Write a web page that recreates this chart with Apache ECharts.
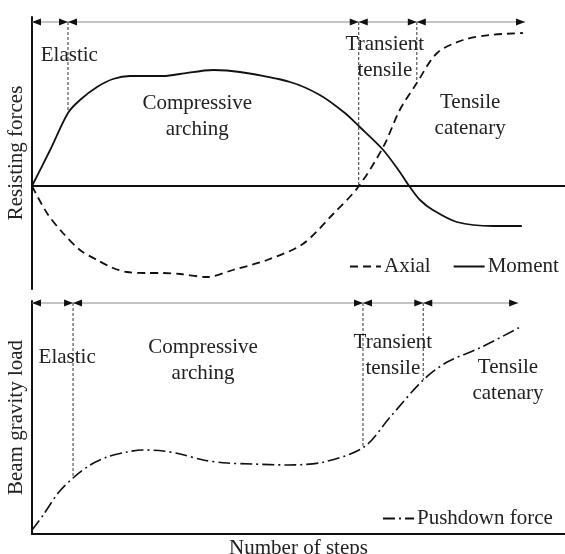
<!DOCTYPE html>
<html><head><meta charset="utf-8">
<script src="https://cdn.jsdelivr.net/npm/echarts@6/dist/echarts.min.js"></script>
<style>html,body{margin:0;padding:0;background:#fff}#c{width:565px;height:554px}</style>
</head><body><div id="c"></div>
<script>
// ---- data (steps normalised 0-100, forces in arbitrary units) ----
const momentSteps  = [0, 3.4, 6.75, 9.0, 12.2, 15.2, 18.4, 21.6, 24.6, 27.8, 34, 39, 48.4, 54, 58.7, 61.5, 65.9, 69, 70.9, 72.8, 75.2, 79.7, 86.5, 91.9];
const momentValues = [0, 36, 73, 86, 99, 107, 110, 110, 110, 112, 116, 114, 104, 91, 73, 59, 36, 14, -1, -14, -24, -36, -40, -40];
const axialSteps   = [0, 2.8, 5.8, 9.0, 12.2, 15.2, 17.8, 21.6, 24.6, 27.8, 32.8, 37.7, 44.1, 50.8, 56.5, 61.2, 65.9, 69, 72.2, 76, 80.9, 85.9, 92.1];
const axialValues  = [0, -27, -47, -64, -74, -82, -86, -87, -87, -88, -91, -84, -74, -58, -28, -1, 39, 76, 103, 133, 146, 151, 153];
const pushSteps    = [0, 2.1, 4.9, 7.7, 10.9, 14.1, 17.8, 20.8, 24.6, 27.8, 32.1, 36.6, 41.3, 48, 54.8, 62.3, 67.2, 73.4, 77.9, 84, 91.6];
const pushValues   = [4, 19, 41, 56, 69, 77, 82, 84, 83, 80, 74, 71, 70, 69, 72, 87, 117, 154, 172, 186, 207];

const phaseNames        = ['Elastic', 'Compressive\narching', 'Transient\ntensile', 'Tensile\ncatenary'];
const topPhaseBounds    = [0, 6.75, 61.3, 72.2, 92.5];
const bottomPhaseBounds = [0, 7.7, 62.1, 73.4, 91.2];
const topBoundCurves    = ['Moment', 'Axial', 'Axial'];
const topLabelSteps     = [7.0, 31, 66.2, 82.2];
const topLabelLevels    = [131, 70, 129, 71];
const bottomLabelSteps  = [6.6, 32.1, 67.7, 89.3];
const bottomLabelLevels = [177, 174, 179, 154];
const topArrowLevel = 164, bottomArrowLevel = 231;

const FONT = "'Liberation Serif','Times New Roman',serif";
const FS = 21;
const zip = (a, b) => a.map((v, i) => [v, b[i]]);
function interp(xs, ys, x) {
  for (let i = 1; i < xs.length; i++) {
    if (x <= xs[i]) { const t = (x - xs[i-1]) / (xs[i] - xs[i-1]); return ys[i-1] + t * (ys[i] - ys[i-1]); }
  }
  return ys[ys.length - 1];
}
const curves = { Moment: [momentSteps, momentValues], Axial: [axialSteps, axialValues], Push: [pushSteps, pushValues] };

function arrowSeries(bounds, level, gi) {
  const segs = [];
  for (let i = 0; i < bounds.length - 1; i++) segs.push([bounds[i], bounds[i+1]]);
  return {
    type: 'custom', xAxisIndex: gi, yAxisIndex: gi, silent: true, z: 5,
    data: segs.map((s, i) => [i, 0]),
    renderItem: (params, api) => {
      const s = segs[params.dataIndex];
      const p1 = api.coord([s[0], level]), p2 = api.coord([s[1], level]);
      const L = 9, W = 3.5;
      return { type: 'group', children: [
        { type: 'line', shape: { x1: p1[0], y1: p1[1], x2: p2[0], y2: p2[1] }, style: { stroke: '#8a8a8a', lineWidth: 1.2 } },
        { type: 'polygon', shape: { points: [[p1[0], p1[1]], [p1[0] + L, p1[1] - W], [p1[0] + L, p1[1] + W]] }, style: { fill: '#111' } },
        { type: 'polygon', shape: { points: [[p2[0], p2[1]], [p2[0] - L, p2[1] - W], [p2[0] - L, p2[1] + W]] }, style: { fill: '#111' } }
      ]};
    }
  };
}
function boundSeries(bounds, level, curveNames, gi) {
  const inner = bounds.slice(1, bounds.length - 1);
  return {
    type: 'custom', xAxisIndex: gi, yAxisIndex: gi, silent: true, z: 4,
    data: inner.map((b, i) => [i, 0]),
    renderItem: (params, api) => {
      const x = inner[params.dataIndex];
      const c = curves[curveNames[params.dataIndex]];
      const yEnd = interp(c[0], c[1], x);
      const p1 = api.coord([x, level]), p2 = api.coord([x, yEnd]);
      return { type: 'line', shape: { x1: p1[0], y1: p1[1], x2: p2[0], y2: p2[1] },
        style: { stroke: '#333', lineWidth: 1, lineDash: [3, 2] } };
    }
  };
}
function labelSeries(steps, levels, gi) {
  return {
    type: 'custom', xAxisIndex: gi, yAxisIndex: gi, silent: true, z: 6,
    data: steps.map((s, i) => [i, 0]),
    renderItem: (params, api) => {
      const i = params.dataIndex;
      const p = api.coord([steps[i], levels[i]]);
      return { type: 'text', x: p[0], y: p[1], style: { text: phaseNames[i], fill: '#222',
        font: FS + 'px ' + FONT, align: 'center', verticalAlign: 'middle', lineHeight: 26 } };
    }
  };
}

const axisLine = { show: true, onZero: true, lineStyle: { color: '#111', width: 2 } };
const hidden = { axisTick: { show: false }, axisLabel: { show: false }, splitLine: { show: false } };
const nameText = { fontFamily: FONT, fontSize: FS, color: '#222' };
const legendText = { fontFamily: FONT, fontSize: FS, color: '#222', padding: [0, 0, 0, -2] };

const chart = echarts.init(document.getElementById('c'), null, { renderer: 'canvas' });
chart.setOption({
  animation: false,
  backgroundColor: '#fff',
  textStyle: { fontFamily: FONT },
  grid: [
    { left: 32, right: 0, top: 17, height: 272, containLabel: false, outerBoundsMode: 'none' },
    { left: 32, right: 0, top: 301, height: 233, containLabel: false, outerBoundsMode: 'none' }
  ],
  xAxis: [
    Object.assign({ type: 'value', gridIndex: 0, min: 0, max: 100, axisLine }, hidden),
    Object.assign({ type: 'value', gridIndex: 1, min: 0, max: 100, axisLine,
      name: 'Number of steps', nameLocation: 'middle', nameGap: 4, nameTextStyle: nameText }, hidden)
  ],
  yAxis: [
    Object.assign({ type: 'value', gridIndex: 0, min: -103, max: 169, axisLine,
      name: 'Resisting forces', nameLocation: 'middle', nameGap: 5, nameTextStyle: nameText }, hidden),
    Object.assign({ type: 'value', gridIndex: 1, min: 0, max: 233, axisLine,
      name: 'Beam gravity load', nameLocation: 'middle', nameGap: 5, nameTextStyle: nameText }, hidden)
  ],
  legend: [
    { data: ['Axial', 'Moment'], left: 349, top: 256, padding: 0, itemWidth: 31, itemHeight: 14, itemGap: 22,
      itemStyle: { opacity: 0 }, textStyle: legendText },
    { data: ['Pushdown force'], left: 382, top: 508, padding: 0, itemWidth: 31, itemHeight: 14,
      itemStyle: { opacity: 0 }, textStyle: legendText }
  ],
  series: [
    { name: 'Axial', type: 'line', xAxisIndex: 0, yAxisIndex: 0, data: zip(axialSteps, axialValues),
      smooth: 0.3, symbol: 'none', color: '#111', lineStyle: { color: '#111', width: 1.8, type: [8, 5] } },
    { name: 'Moment', type: 'line', xAxisIndex: 0, yAxisIndex: 0, data: zip(momentSteps, momentValues),
      smooth: 0.3, symbol: 'none', color: '#111', lineStyle: { color: '#111', width: 1.8, type: 'solid' } },
    { name: 'Pushdown force', type: 'line', xAxisIndex: 1, yAxisIndex: 1, data: zip(pushSteps, pushValues),
      smooth: 0.3, symbol: 'none', color: '#111', lineStyle: { color: '#111', width: 1.6, type: [12, 4, 2, 4] } },
    arrowSeries(topPhaseBounds, topArrowLevel, 0),
    arrowSeries(bottomPhaseBounds, bottomArrowLevel, 1),
    boundSeries(topPhaseBounds, topArrowLevel, topBoundCurves, 0),
    boundSeries(bottomPhaseBounds, bottomArrowLevel, ['Push', 'Push', 'Push'], 1),
    labelSeries(topLabelSteps, topLabelLevels, 0),
    labelSeries(bottomLabelSteps, bottomLabelLevels, 1)
  ]
});
</script></body></html>
